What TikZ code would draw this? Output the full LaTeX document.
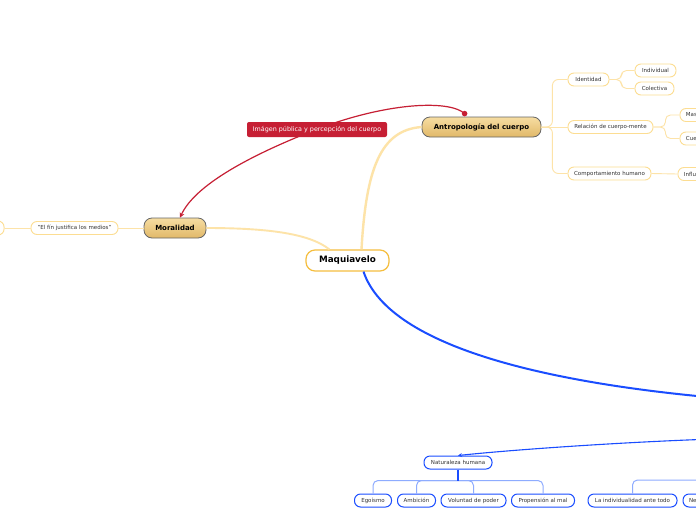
\documentclass[tikz,border=0pt]{standalone}
\usepackage{fontspec}
\setmainfont{DejaVu Sans}
\usetikzlibrary{calc,arrows.meta}
\definecolor{ylw}{HTML}{FCDD92}
\definecolor{ylwline}{HTML}{FDE3A8}
\definecolor{maqb}{HTML}{F5BE3F}
\definecolor{txt}{HTML}{333333}
\definecolor{blu}{HTML}{1A4DFF}
\definecolor{lblu}{HTML}{8EACFF}
\definecolor{rd}{HTML}{C61F34}
\definecolor{tantop}{HTML}{F6DDA2}
\definecolor{tanbot}{HTML}{E1B868}
\tikzset{
  smallY/.style={draw=ylw, line width=0.9pt, rounded corners=6pt, fill=white,
    font=\fontsize{5.5}{6}\selectfont, text=txt, minimum height=13pt, inner sep=0pt},
  smallB/.style={draw=blu, line width=1pt, rounded corners=6pt, fill=white,
    font=\fontsize{5.5}{6}\selectfont, text=txt, minimum height=13pt, inner sep=0pt},
  topic/.style={draw=black!60, line width=0.8pt, rounded corners=8pt,
    top color=tantop, bottom color=tanbot, font=\bfseries\fontsize{7}{8}\selectfont,
    minimum height=20pt, inner sep=0pt},
  maqstyle/.style={draw=maqb, line width=1.2pt, rounded corners=9pt, fill=white,
    font=\bfseries\fontsize{8.8}{10}\selectfont, minimum height=21pt, minimum width=83pt, inner sep=0pt},
  redlab/.style={fill=rd, rounded corners=2pt, text=white, font=\fontsize{6.4}{7}\selectfont,
    minimum height=15pt, minimum width=140pt, inner sep=0pt},
  ythin/.style={draw=ylwline, line width=0.9pt},
  ythick/.style={draw=ylwline, line width=1.9pt},
  bthick/.style={draw=blu, line width=2pt},
  bthin/.style={draw=blu, line width=1.1pt},
  bbranch/.style={draw=lblu, line width=1pt, rounded corners=5pt},
  cut/.style={anchor=west, text width=50pt, align=left, inner xsep=6pt},
}
\begin{document}
\begin{tikzpicture}[x=1pt,y=-1pt]
\path[use as bounding box, fill=white] (0,0) rectangle (696,520);
\clip (0,0) rectangle (696,520);

% nodes
\node[maqstyle] (maq) at (347.5,260.5) {Maquiavelo};
\node[topic, minimum width=119pt] (antro) at (481.5,127) {Antropología del cuerpo};
\node[topic, minimum width=62pt] (moral) at (175,228) {Moralidad};
\node[smallY, minimum width=87pt] (fin) at (74.5,228) {"El fín justifica los medios"};
\node[smallY, anchor=east, minimum width=40pt, minimum height=14pt] (leftn) at (4.5,228) {};
\node[smallY, minimum width=41pt] (ident) at (588.5,79.5) {Identidad};
\node[smallY, minimum width=85pt] (rel) at (610.5,127) {Relación de cuerpo-mente};
\node[smallY, minimum width=83pt] (comp) at (609.5,173.5) {Comportamiento humano};
\node[smallY, minimum width=41pt] (indiv) at (655.5,70.5) {Individual};
\node[smallY, minimum width=39pt] (colec) at (654.5,88.5) {Colectiva};
\node[smallY, cut] (mas) at (679.5,115) {Mas};
\node[smallY, cut] (cue) at (679.5,138.5) {Cue};
\node[smallY, cut] (influ) at (677.5,174) {Influ};

\node[smallB, minimum width=68pt] (nat) at (458,462.5) {Naturaleza humana};
\node[smallB, minimum width=37pt] (ego) at (373,500.5) {Egoísmo};
\node[smallB, minimum width=38pt] (amb) at (416.5,500.5) {Ambición};
\node[smallB, minimum width=65pt] (vol) at (473.5,500.5) {Voluntad de poder};
\node[smallB, minimum width=63pt] (prop) at (543,500.5) {Propensión al mal};
\node[smallB, minimum width=89pt] (ind) at (632.5,500.5) {La individualidad ante todo};
\node[smallB, cut] (ne) at (682.5,500.5) {Ne};

\coordinate (offA) at (730,399);
\coordinate (offN) at (730,438.5);
\coordinate (offI) at (730,480);

% yellow connectors
\draw[ythick] (moral.east) .. controls (270,228) and (310,234) .. ($(maq.north west)+(24,0)$);
\draw[ythick, line width=2.4pt] ($(maq.north)+(14,0)$) .. controls (366,170) and (380,130) .. (antro.west);
\draw[ythin] (fin.east) -- (moral.west);
\draw[ythin] (leftn.east) -- (fin.west);
\draw[ythin, rounded corners=6pt] (antro.east) -- ++(11,0) |- (ident.west);
\draw[ythin] (antro.east) -- (rel.west);
\draw[ythin, rounded corners=6pt] (antro.east) -- ++(11,0) |- (comp.west);
\draw[ythin, rounded corners=5pt] (ident.east) -- ++(12,0) |- (indiv.west);
\draw[ythin, rounded corners=5pt] (ident.east) -- ++(12,0) |- (colec.west);
\draw[ythin, rounded corners=5pt] (rel.east) -- ++(12,0) |- (mas.west);
\draw[ythin, rounded corners=5pt] (rel.east) -- ++(12,0) |- (cue.west);
\draw[ythin] (comp.east) -- (influ.west);

% blue connectors
\draw[bthick] ($(maq.south)+(16,0)$) .. controls (390,350) and (560,385) .. (offA);
\draw[bthin, -{Stealth[length=4pt,width=4pt]}] (offN) .. controls (640,441) and (520,449) .. (nat.north);
\draw[bthin, line width=1.5pt] (nat.south) -- ++(0,11) coordinate (nj);
\draw[bbranch] (nj) -| (ego.north);
\draw[bbranch] (nj) -| (amb.north);
\draw[bbranch] (nj) -| (vol.north);
\draw[bbranch] (nj) -| (prop.north);
\draw[bbranch] (ind.north) |- (offI);
\draw[bthin, line width=1.5pt] (nat.south) -- (nj);

% red relation
\draw[rd, line width=1.2pt, -{Stealth[length=5pt,width=5pt]}]
  ($(antro.north west)+(43,-3)$) .. controls (450,100) and (390,102) .. (320,128)
  .. controls (250,155) and (195,185) .. ($(moral.north)+(5,0)$);
\fill[rd] ($(antro.north west)+(43,-3)$) circle (2.8pt);
\node[redlab] (img) at (317,129.5) {Imágen pública y percepción del cuerpo};
\end{tikzpicture}
\end{document}
